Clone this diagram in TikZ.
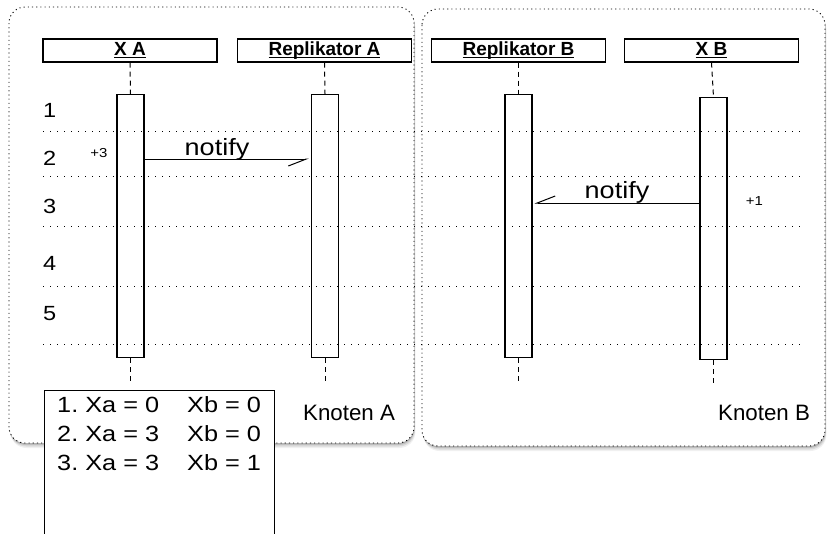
\documentclass[tikz,border=0pt]{standalone}
\usepackage{fontspec}
\setmainfont{Liberation Sans}
\newfontfamily\widesans{Liberation Sans}[FakeStretch=1.15]
\usetikzlibrary{arrows.meta,shadows}

% underlined header label
\newcommand{\hdrtext}[1]{\setbox0\hbox{#1}\rlap{\rule[-2.4pt]{\wd0}{1.1pt}}\box0}
\newcommand{\fs}[1]{\fontsize{#1}{#1}\selectfont}
\frenchspacing

\begin{document}
\begin{tikzpicture}[x=1pt,y=-1pt,
  nodeframe/.style={draw, rounded corners=16pt, line width=0.9pt,
    dash pattern=on 1.1pt off 3.1pt, fill=white,
    drop shadow={shadow xshift=1.4pt, shadow yshift=-5pt, opacity=0.12},
    drop shadow={shadow xshift=1pt, shadow yshift=-3.5pt, opacity=0.2},
    drop shadow={shadow xshift=0.6pt, shadow yshift=-2pt, opacity=0.3},
    drop shadow={shadow xshift=0.3pt, shadow yshift=-1pt, opacity=0.35}},
  hdr/.style={draw, line width=1.1pt, fill=white, minimum width=174pt,
    minimum height=23pt, inner sep=0pt, font=\bfseries\fs{19}},
  bar/.style={draw, line width=1.1pt, fill=white, minimum width=27pt,
    inner sep=0pt, anchor=north},
  life/.style={line width=1pt, dash pattern=on 5pt off 4pt},
  sep/.style={line width=1pt, dash pattern=on 1.4pt off 5.6pt},
  num/.style={anchor=base west, inner sep=0pt, font=\widesans\fs{20.5}},
  msg/.style={line width=1pt, -{Straight Barb[harpoon,swap,length=18pt,width=14pt,line width=1pt]}},
  lbl/.style={anchor=base, inner sep=0pt, font=\widesans\fs{23.5}},
  small/.style={anchor=base, inner sep=0pt, font=\widesans\fs{13}},
  knoten/.style={anchor=base west, inner sep=0pt, font=\fs{22.3}},
  state/.style={anchor=base west, inner sep=0pt, font=\widesans\fs{22}}
]
\useasboundingbox (0,0) rectangle (827,533);

% the two node frames
\draw[nodeframe] (9,7) rectangle (414,443);
\draw[nodeframe] (422,9) rectangle (825,446);

% lifeline headers
\node[hdr] (xa) at (130,50.5) {\hdrtext{X A}};
\node[hdr] (ra) at (324.5,50.5) {\hdrtext{Replikator A}};
\node[hdr] (rb) at (518.5,50.5) {\hdrtext{Replikator B}};
\node[hdr] (xb) at (711.5,50.5) {\hdrtext{X B}};

% activation bars
\node[bar, minimum height=263pt] (barxa) at (130.5,94) {};
\node[bar, minimum height=263pt] (barra) at (325,94) {};
\node[bar, minimum height=263pt] (barrb) at (518.5,94) {};
\node[bar, minimum height=262pt] (barxb) at (713.5,97) {};

% lifeline ends
\coordinate (endxa) at (130.5,383);
\coordinate (endra) at (325,383);
\coordinate (endrb) at (518.5,383);
\coordinate (endxb) at (713.5,383);

\draw[life] (xa.south) -- (barxa.north);
\draw[life] (ra.south) -- (barra.north);
\draw[life] (rb.south) -- (barrb.north);
\draw[life] (xb.south) -- (barxb.north);
\draw[life] (barxa.south) -- (endxa);
\draw[life] (barra.south) -- (endra);
\draw[life] (barrb.south) -- (endrb);
\draw[life] (barxb.south) -- (endxb);

% step separators
\foreach \y in {131,176,226,286,344}
  \draw[sep] (43,\y) -- (800,\y);

% step numbers
\node[num] (n1) at (43,117.5) {1};
\node[num] (n2) at (43,165.5) {2};
\node[num] (n3) at (43,213) {3};
\node[num] (n4) at (43,270) {4};
\node[num] (n5) at (43,320) {5};

% messages
\coordinate (m1) at (0,159);
\coordinate (m2) at (0,203);
\draw[msg] (barxa.east |- m1) -- ([xshift=-2pt]barra.west |- m1);
\draw[msg] (barxb.west |- m2) -- ([xshift=2pt]barrb.east |- m2);
\node[lbl] (l1) at (217,155) {notify};
\node[lbl] (l2) at (617,198) {notify};

\node[small] (inca) at (99,157) {+3};
\node[small] (incb) at (754.5,205) {+1};

\node[knoten] (ka) at (303,420) {Knoten A};
\node[knoten] (kb) at (718,420) {Knoten B};

% state table
\node[draw, line width=1.1pt, fill=white, anchor=north west, minimum width=230pt,
  minimum height=160pt, inner sep=0pt] (statebox) at (44,390) {};
\node[state] (s1a) at (57,412.5) {1. Xa = 0};
\node[state] (s1b) at (187,412.5) {Xb = 0};
\node[state] (s2a) at (57,441.5) {2. Xa = 3};
\node[state] (s2b) at (187,441.5) {Xb = 0};
\node[state] (s3a) at (57,470.5) {3. Xa = 3};
\node[state] (s3b) at (187,470.5) {Xb = 1};
\end{tikzpicture}
\end{document}
